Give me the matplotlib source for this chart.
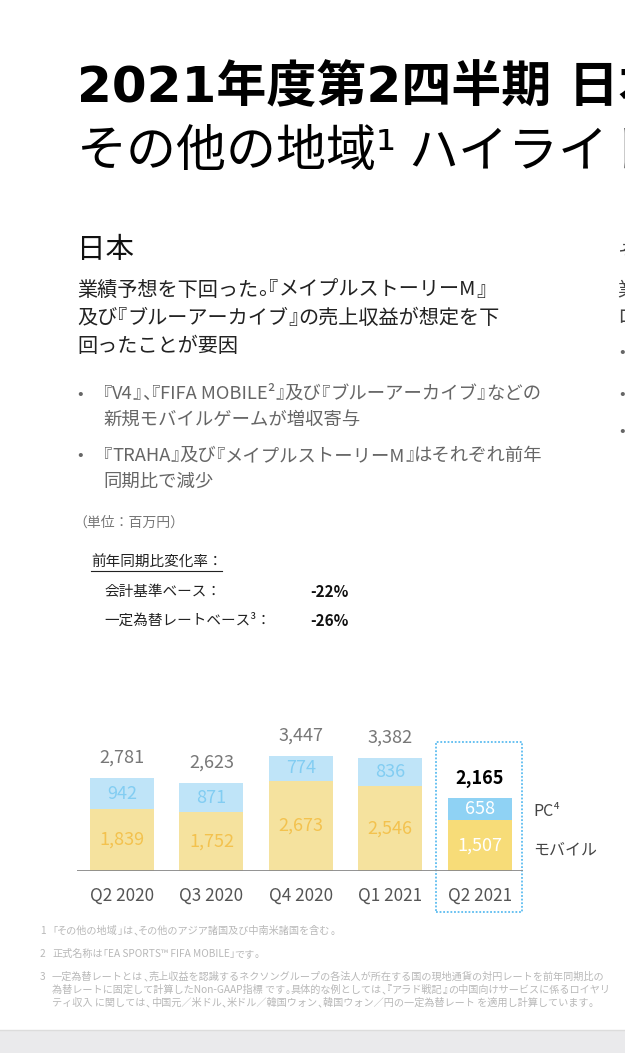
import matplotlib
matplotlib.use("Agg")
import matplotlib.pyplot as plt
from matplotlib.patches import Rectangle
from matplotlib import font_manager
from matplotlib.ft2font import FT2Font

plt.rcParams["font.family"] = ["Noto Sans CJK JP", "DejaVu Sans"]

# data (単位: 百万円)
quarters = ["Q2 2020", "Q3 2020", "Q4 2020", "Q1 2021", "Q2 2021"]
mobile = [1839, 1752, 2673, 2546, 1507]
pc = [942, 871, 774, 836, 658]
totals = [2781, 2623, 3447, 3382, 2165]

W, H = 625, 1053
DPI = 100
fig = plt.figure(figsize=(W / DPI, H / DPI), dpi=DPI)


def fx(x):
    return x / W


def fy(y):
    return 1 - y / H


def txt(x, y, s, **kw):
    kw.setdefault("va", "center")
    return fig.text(fx(x), fy(y), s, **kw)


# proportional spacing for full-width brackets, like the slide's typesetting
OPEN = "『「"
CLOSE = "』」、。"
_fonts = {}


def adv(s, size, weight="normal"):
    key = (size, weight)
    if key not in _fonts:
        path = font_manager.findfont(font_manager.FontProperties(family="Noto Sans CJK JP", weight=weight))
        f = FT2Font(path)
        f.set_size(size, DPI)
        _fonts[key] = f
    f = _fonts[key]
    return sum(f.load_char(ord(c)).linearHoriAdvance / 65536 for c in s)


def rich(x, y, s, size, color, weight="normal"):
    segs, buf = [], ""
    for c in s:
        if c in OPEN or c in CLOSE:
            if buf:
                segs.append(buf)
                buf = ""
            segs.append(c)
        else:
            buf += c
    if buf:
        segs.append(buf)
    cur = x
    for seg in segs:
        w = adv(seg, size, weight)
        if seg in OPEN:
            cur -= w / 2
            txt(cur, y, seg, fontsize=size, color=color, fontweight=weight)
            cur += w
        elif seg in CLOSE:
            txt(cur, y, seg, fontsize=size, color=color, fontweight=weight)
            cur += w / 2
        else:
            txt(cur, y, seg, fontsize=size, color=color, fontweight=weight)
            cur += w


# title (runs off the right edge like the slide crop)
title_font = ["DejaVu Sans", "Noto Sans CJK JP"]
txt(77, 88, "2021年度第2四半期 日本及び", fontsize=36, fontweight="bold", color="black", family=title_font)
txt(77, 152, "その他の地域¹", fontsize=36, color="black", family=title_font)
txt(408, 152, "ハイライト", fontsize=36, color="black")

txt(77, 250, "日本", fontsize=20.5, color="#111111")
sub = ["業績予想を下回った。『メイプルストーリーM』",
       "及び『ブルーアーカイブ』の売上収益が想定を下",
       "回ったことが要因"]
for i, s in enumerate(sub):
    rich(77, 290 + i * 28, s, 14.5, "#222222")

bullets = [("『V4』、『FIFA MOBILE²』及び『ブルーアーカイブ』などの", "新規モバイルゲームが増収寄与"),
           ("『TRAHA』及び『メイプルストーリーM』はそれぞれ前年", "同期比で減少")]
for i, (a, b) in enumerate(bullets):
    y0 = 394 + i * 62
    txt(77, y0, "•", fontsize=12, color="#666666")
    rich(103, y0, a, 13.2, "#666666")
    rich(103, y0 + 26, b, 13.2, "#666666")

txt(73, 523, "（単位：百万円）", fontsize=10, color="#777777")
txt(91, 562, "前年同期比変化率：", fontsize=10.5, color="#222222")
fig.add_artist(plt.Line2D([fx(91), fx(222)], [fy(571), fy(571)], color="#222222", lw=0.8))
txt(104, 592, "会計基準ベース：", fontsize=10.5, color="#222222")
txt(310, 592, "-22%", fontsize=11, fontweight="bold", color="#111111")
txt(104, 621, "一定為替レートベース³：", fontsize=10.5, color="#222222")
txt(310, 621, "-26%", fontsize=11, fontweight="bold", color="#111111")

# partial glyphs of the next column at the right edge
for y, s in [(252, "そ"), (290, "業"), (318, "ロ")]:
    txt(617, y, s, fontsize=14, color="#444444")
for y in [352, 394, 431]:
    txt(619, y, "•", fontsize=12, color="#666666")

# chart
base_y = 870.7
upp = 29.94  # units per pixel
x_left, x_right = 77, 523
top_px = 720
cx0, step = 122, 89.4
ax = fig.add_axes([fx(x_left), fy(base_y), (x_right - x_left) / W, (base_y - top_px) / H])
ax.set_xlim((x_left - cx0) / step, (x_right - cx0) / step)
ax.set_ylim(0, (base_y - top_px) * upp)
ax.axis("off")

xs = list(range(len(quarters)))
bw = 64 / step
mob_col = ["#f5e29e"] * 4 + ["#f7dc78"]
pc_col = ["#bfe4f8"] * 4 + ["#8fd2f4"]
ax.bar(xs, mobile, bw, color=mob_col)
ax.bar(xs, pc, bw, bottom=mobile, color=pc_col)
ax.axhline(0, color="#8a8a8a", lw=1.3)

for i in xs:
    last = i == len(xs) - 1
    ax.text(i, mobile[i] / 2, f"{mobile[i]:,}", ha="center", va="center",
            fontsize=13, color="white" if last else "#f3c24e")
    ax.text(i, mobile[i] + pc[i] / 2, f"{pc[i]:,}", ha="center", va="center",
            fontsize=13, color="white" if last else "#82cdf2")
    ax.text(i, totals[i] + 20 * upp, f"{totals[i]:,}", ha="center", va="center",
            fontsize=13, fontweight="bold" if last else "normal",
            color="black" if last else "#777777")
    ax.text(i, -25 * upp, quarters[i], ha="center", va="center",
            fontsize=12.3, color="#555555", clip_on=False)

bx0, bx1 = (436 - cx0) / step, (522 - cx0) / step
by0, by1 = (base_y - 912) * upp, (base_y - 742) * upp
ax.add_patch(Rectangle((bx0, by0), bx1 - bx0, by1 - by0, fill=False,
                       edgecolor="#5cbcf0", lw=1.3, ls=(0, (1, 1)), clip_on=False))

txt(533, 812, "PC⁴", fontsize=11.5, color="#444444")
txt(533, 850, "モバイル", fontsize=11.5, color="#444444")

# footnotes
notes = [
    (931, "1", "「その他の地域」は、その他のアジア諸国及び中南米諸国を含む。"),
    (954, "2", "正式名称は「EA SPORTS™ FIFA MOBILE」です。"),
    (977, "3", "一定為替レートとは、売上収益を認識するネクソングループの各法人が所在する国の現地通貨の対円レートを前年同期比の"),
    (990, "", "為替レートに固定して計算したNon-GAAP指標 です。具体的な例としては、『アラド戦記』の中国向けサービスに係るロイヤリ"),
    (1003, "", "ティ収入 に関しては、中国元／米ドル、米ドル／韓国ウォン、韓国ウォン／円の一定為替レート を適用し計算しています。"),
]
for y, n, s in notes:
    if n:
        txt(40, y, n, fontsize=7.3, color="#b8b8b8")
    rich(52, y, s, 7.3, "#b8b8b8")

# bottom grey band
fig.add_artist(Rectangle((0, 0), 1, (H - 1030) / H, transform=fig.transFigure,
                         facecolor="#eaeaec", edgecolor="none"))
fig.add_artist(plt.Line2D([0, 1], [fy(1030), fy(1030)], color="#dcdcdc", lw=1))

fig.savefig("out.png", dpi=DPI)
